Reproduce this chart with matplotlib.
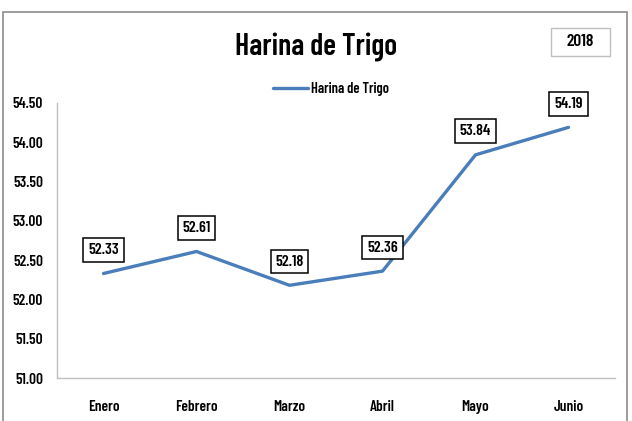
import matplotlib
matplotlib.use("Agg")
import matplotlib.pyplot as plt
from matplotlib import font_manager
from matplotlib.patches import Rectangle

months = ["Enero", "Febrero", "Marzo", "Abril", "Mayo", "Junio"]
values = [52.33, 52.61, 52.18, 52.36, 53.84, 54.19]
yticks = [51.00, 51.50, 52.00, 52.50, 53.00, 53.50, 54.00, 54.50]
title = "Harina de Trigo"
series_name = "Harina de Trigo"
year_label = "2018"

names = {f.name for f in font_manager.fontManager.ttflist}
fam = "Barlow Condensed" if "Barlow Condensed" in names else "DejaVu Sans"
plt.rcParams["font.family"] = [fam, "DejaVu Sans"]
WT = 600
plt.rcParams["font.weight"] = WT

W, H = 632, 421
fig = plt.figure(figsize=(W / 100, H / 100), dpi=100)
fig.patch.set_facecolor("white")

# outer chart border
fig.add_artist(Rectangle((3 / W, -0.05), 624 / W, 1.05 - 12 / H, transform=fig.transFigure,
                         fill=False, edgecolor="#8c8c8c", linewidth=1.2))

ax = fig.add_axes([57 / W, 1 - 378 / H, (615 - 57) / W, (378 - 103) / H])
x = list(range(len(months)))
line, = ax.plot(x, values, color="#4A7EBB", linewidth=2.4, solid_capstyle="round",
                label=series_name)
ax.set_xlim(-0.5, len(months) - 0.5)
ax.set_ylim(yticks[0], yticks[-1])
ax.set_yticks(yticks)
ax.set_yticklabels([f"{v:.2f}" for v in yticks], fontsize=11, fontweight=WT)
ax.set_xticks(x)
ax.set_xticklabels(months, fontsize=11, fontweight=WT)
ax.tick_params(axis="both", length=0)
ax.tick_params(axis="y", pad=10)
ax.tick_params(axis="x", pad=15.5)
for s in ["top", "right"]:
    ax.spines[s].set_visible(False)
for s in ["left", "bottom"]:
    ax.spines[s].set_color("#BFBFBF")
    ax.spines[s].set_linewidth(1.0)

for xi, v in zip(x, values):
    ax.annotate(f"{v:.2f}", (xi, v), xytext=(0, 17), textcoords="offset points",
                ha="center", va="center", fontsize=11.5, fontweight=WT,
                bbox=dict(boxstyle="square,pad=0.3", fc="white", ec="black", lw=1.1))

fig.text(316 / W, 1 - 48 / H, title, ha="center", va="center", fontsize=21.5, fontweight=WT)
fig.legend(handles=[line], loc="center", bbox_to_anchor=(331 / W, 1 - 89 / H), frameon=False,
           handlelength=2.4, handletextpad=0.2, prop={"weight": WT, "size": 10.5})

# year box
fig.add_artist(Rectangle((551 / W, 1 - 56 / H), 59 / W, 28 / H, transform=fig.transFigure,
                         fc="white", ec="#BFBFBF", lw=1.0))
fig.text(580 / W, 1 - 42 / H, year_label, ha="center", va="center", fontsize=12.5, fontweight=WT)

fig.savefig("out.png", dpi=100)
